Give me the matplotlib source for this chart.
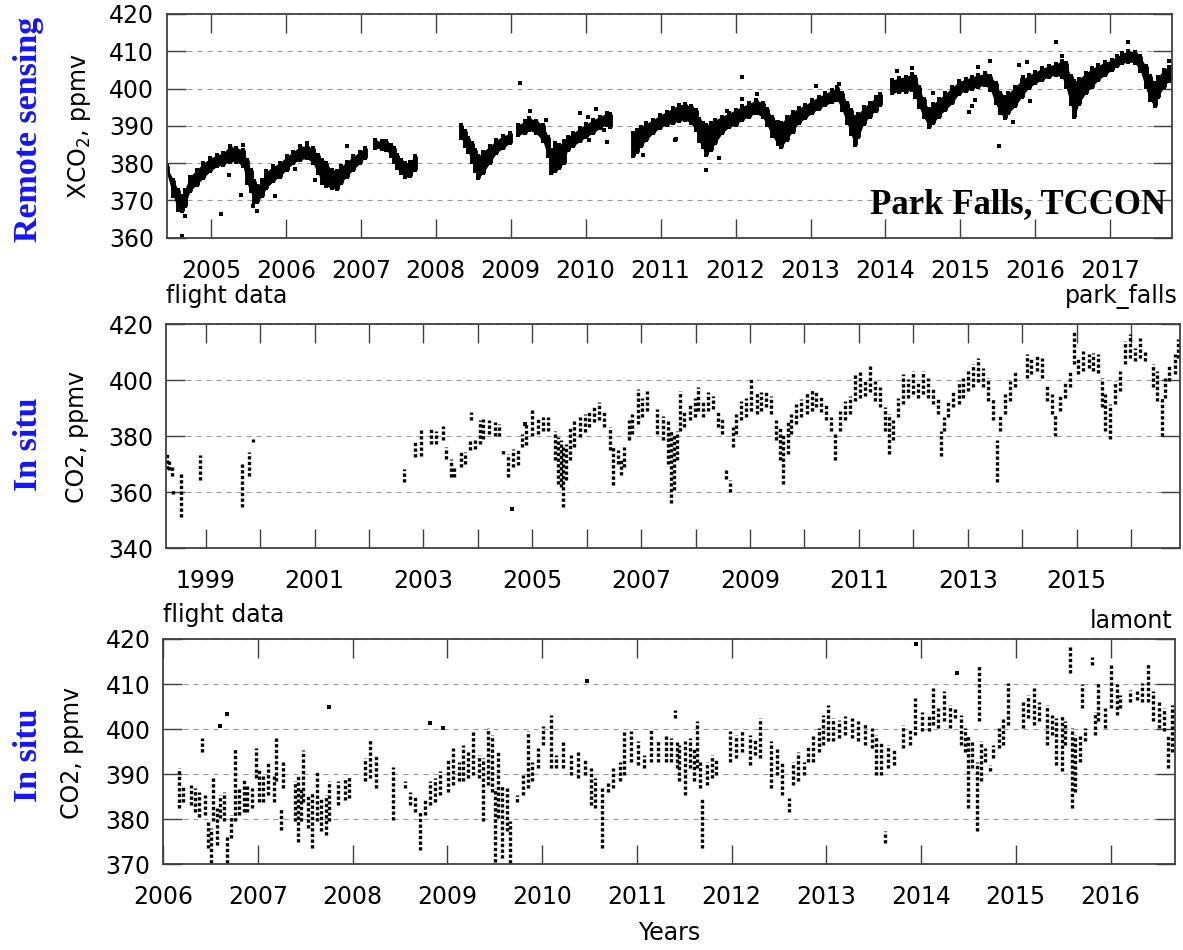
import numpy as np
import matplotlib
matplotlib.use("Agg")
import matplotlib.pyplot as plt

# ------------------------------------------------------------
# DATA
# ------------------------------------------------------------

# panel 1 : Park Falls TCCON XCO2, band envelope (decimal year, low, high)
tc_year = [
    2004.41, 2004.50, 2004.56, 2004.61, 2004.65, 2004.72, 2004.81, 2004.90, 2004.99,
    2005.08, 2005.16, 2005.25, 2005.34, 2005.43, 2005.48, 2005.53, 2005.57, 2005.62, 2005.68, 2005.74, 2005.83, 2005.92,
    2006.01, 2006.10, 2006.19, 2006.28, 2006.36, 2006.43, 2006.48, 2006.54, 2006.61, 2006.68, 2006.74, 2006.81, 2006.90, 2006.99,
    2007.05,
    2007.19, 2007.28, 2007.34, 2007.40, 2007.44, 2007.48, 2007.53, 2007.59, 2007.65, 2007.72,
    2008.34, 2008.39, 2008.43, 2008.48, 2008.52, 2008.57, 2008.63, 2008.72, 2008.81, 2008.90, 2008.99,
    2009.10, 2009.19, 2009.25, 2009.34, 2009.43, 2009.50, 2009.54, 2009.59, 2009.65, 2009.71, 2009.76, 2009.83, 2009.92,
    2010.01, 2010.10, 2010.19, 2010.28, 2010.33,
    2010.63, 2010.68, 2010.74, 2010.81, 2010.90, 2010.99, 2011.08,
    2011.16, 2011.24, 2011.33, 2011.40, 2011.47, 2011.51, 2011.56, 2011.60, 2011.67, 2011.73, 2011.82, 2011.91,
    2012.00, 2012.09, 2012.18, 2012.27, 2012.36, 2012.42, 2012.49, 2012.56, 2012.61, 2012.68, 2012.76, 2012.84, 2012.93,
    2013.02, 2013.11, 2013.20, 2013.29, 2013.36, 2013.42, 2013.49, 2013.54, 2013.59, 2013.64, 2013.71, 2013.79, 2013.87, 2013.93,
    2014.09, 2014.18, 2014.27, 2014.35, 2014.40, 2014.45, 2014.51, 2014.58, 2014.64, 2014.71, 2014.80, 2014.89, 2014.98,
    2015.07, 2015.16, 2015.24, 2015.33, 2015.40, 2015.47, 2015.53, 2015.59, 2015.64, 2015.73, 2015.82, 2015.91,
    2016.00, 2016.09, 2016.18, 2016.27, 2016.36, 2016.41, 2016.47, 2016.52, 2016.58, 2016.67, 2016.76, 2016.84, 2016.93,
    2017.02, 2017.09, 2017.16, 2017.24, 2017.33, 2017.40, 2017.47, 2017.53, 2017.59, 2017.64, 2017.71, 2017.78, 2017.82,
]
tc_lo = [
    377.3, 371.1, 367.5, 367.1, 368.4, 372.4, 374.2, 376.0, 377.8,
    379.1, 379.6, 380.4, 380.4, 379.1, 374.6, 372.4, 369.7, 369.5, 371.1, 373.3, 375.1, 376.4,
    378.2, 380.0, 380.9, 381.3, 380.0, 377.3, 374.6, 373.8, 373.3, 373.0, 374.6, 376.4, 378.2, 380.0,
    381.3,
    384.0, 383.8, 383.6, 381.8, 380.4, 378.7, 377.3, 376.4, 376.6, 378.2,
    386.7, 384.5, 383.1, 380.4, 377.8, 376.0, 377.3, 380.0, 382.7, 384.0, 385.4,
    387.6, 388.0, 388.8, 388.0, 385.8, 381.8, 377.3, 377.8, 378.7, 380.0, 383.6, 384.5, 385.8,
    387.1, 388.0, 389.4, 390.3, 389.8,
    381.8, 383.1, 384.5, 386.2, 388.0, 389.4, 390.3,
    390.7, 391.4, 391.6, 390.7, 388.9, 386.0, 384.2, 382.2, 383.5, 385.3, 388.0, 389.6,
    390.2, 391.6, 392.5, 393.4, 392.3, 390.2, 387.3, 385.1, 384.2, 386.2, 388.4, 390.7, 392.0,
    393.4, 394.6, 395.5, 396.4, 396.9, 394.3, 390.7, 387.8, 384.9, 387.1, 390.5, 392.5, 394.1, 395.6,
    398.7, 399.2, 399.2, 399.6, 397.7, 395.0, 392.3, 389.8, 390.7, 392.5, 394.3, 396.0, 398.6,
    399.4, 400.0, 400.5, 400.9, 399.6, 396.0, 393.4, 392.0, 393.4, 395.2, 397.8, 400.1,
    401.4, 402.3, 403.2, 403.6, 403.0, 400.3, 395.9, 392.3, 395.9, 398.7, 400.5, 402.3, 403.6,
    405.0, 406.1, 406.8, 407.2, 406.8, 404.8, 400.3, 396.9, 395.3, 397.7, 400.3, 402.1, 402.8,
]
tc_hi = [
    379.1, 375.5, 372.9, 371.1, 372.9, 376.4, 378.2, 380.0, 381.3,
    382.2, 382.7, 384.5, 384.0, 383.6, 380.9, 378.2, 375.1, 373.8, 375.5, 377.8, 379.1, 380.0,
    381.8, 383.1, 384.5, 384.6, 384.0, 382.2, 380.9, 380.0, 378.2, 377.8, 379.1, 380.4, 381.8, 383.1,
    384.0,
    386.1, 385.8, 385.8, 384.9, 384.0, 382.2, 380.9, 380.0, 380.4, 381.8,
    390.3, 388.5, 386.7, 385.4, 383.6, 381.8, 383.1, 384.5, 386.2, 387.3, 388.0,
    390.3, 391.2, 392.1, 391.4, 390.3, 387.1, 383.6, 385.4, 384.9, 385.8, 387.1, 388.0, 389.4,
    390.5, 391.6, 392.5, 393.4, 393.2,
    388.0, 388.9, 389.8, 390.7, 391.6, 392.9, 393.8,
    394.7, 395.6, 395.8, 395.2, 394.3, 391.8, 390.7, 390.2, 390.7, 391.6, 392.5, 393.4,
    394.3, 395.2, 396.0, 396.9, 396.2, 394.4, 392.5, 390.9, 390.7, 392.3, 393.8, 394.7, 395.6,
    396.8, 397.8, 398.7, 399.6, 400.3, 398.7, 396.2, 394.3, 392.5, 393.2, 395.0, 396.2, 397.7, 398.6,
    402.3, 402.8, 403.2, 403.9, 403.2, 400.5, 397.1, 394.4, 395.9, 397.1, 398.7, 400.3, 401.9,
    402.5, 403.2, 403.6, 404.1, 403.4, 401.6, 398.9, 397.8, 398.7, 400.5, 402.3, 403.6,
    404.5, 405.4, 406.1, 406.6, 407.5, 406.8, 403.4, 401.9, 402.5, 404.1, 405.4, 406.3, 407.0,
    407.7, 408.6, 409.5, 410.0, 409.9, 408.6, 406.1, 403.4, 401.6, 403.2, 405.0, 405.9, 405.9,
]
tc_out_year = [2004.62, 2004.65, 2005.13, 2005.24, 2005.40, 2005.56, 2005.62, 2005.85, 2006.12,
               2006.39, 2006.81, 2006.28, 2005.43, 2009.12, 2009.26, 2009.47, 2009.47, 2009.92,
               2010.03, 2010.14, 2010.05, 2010.28, 2010.25, 2010.76, 2011.19, 2011.20, 2011.78,
               2011.61, 2012.09, 2012.09, 2012.29, 2011.88, 2013.07, 2013.38, 2014.16, 2014.36,
               2014.63, 2015.12, 2015.15, 2015.20, 2015.24, 2015.39, 2015.51, 2015.70, 2015.78,
               2015.89, 2015.84, 2015.93, 2016.28, 2016.36, 2017.24, 2017.78]
tc_out_val = [360.4, 365.7, 366.4, 376.7, 371.5, 368.4, 367.1, 371.3, 378.4,
              375.5, 384.5, 385.5, 384.9, 401.6, 394.0, 391.6, 386.3, 393.4,
              392.3, 394.6, 386.1, 385.6, 388.8, 382.1, 386.3, 386.4, 381.5,
              378.2, 403.2, 397.1, 398.6, 394.1, 400.7, 401.2, 404.7, 405.4,
              398.9, 393.6, 395.4, 396.8, 405.9, 407.4, 384.6, 391.0, 406.2,
              407.2, 403.2, 396.7, 412.6, 408.6, 412.6, 407.5]

# panel 2 : park_falls flight profiles (decimal year, low, high)
pf_year = [
    1998.28, 1998.33, 1998.38, 1998.40, 1998.55, 1998.90, 1999.67, 1999.80, 1999.86,
    2002.65, 2002.84, 2002.96, 2003.14, 2003.23, 2003.36, 2003.42, 2003.51, 2003.57, 2003.69,
    2003.76, 2003.85, 2003.88, 2003.94, 2004.03, 2004.10, 2004.21, 2004.31, 2004.39, 2004.46,
    2004.55, 2004.65, 2004.73, 2004.81, 2004.89, 2005.00, 2005.10, 2005.19, 2005.29, 2005.41,
    2005.47, 2005.53, 2005.57, 2005.62, 2005.70, 2005.77, 2005.87, 2005.96, 2006.05, 2006.14,
    2006.23, 2006.32, 2006.42, 2006.49, 2006.57, 2006.63, 2006.69, 2006.77, 2006.83, 2006.94,
    2007.02, 2007.10, 2007.30, 2007.40, 2007.49, 2007.55, 2007.61, 2007.66, 2007.71, 2007.79,
    2007.89, 2007.98, 2008.04, 2008.13, 2008.23, 2008.32, 2008.41, 2008.48, 2008.55, 2008.64,
    2008.69, 2008.75, 2008.84, 2008.93, 2009.02, 2009.12, 2009.21, 2009.30, 2009.39, 2009.48,
    2009.55, 2009.61, 2009.69, 2009.76, 2009.85, 2009.94, 2010.04, 2010.13, 2010.22, 2010.31,
    2010.40, 2010.48, 2010.56, 2010.65, 2010.74, 2010.83, 2010.92, 2011.02, 2011.11, 2011.20,
    2011.29, 2011.38, 2011.48, 2011.55, 2011.63, 2011.72, 2011.81, 2011.91, 2012.00, 2012.09,
    2012.18, 2012.27, 2012.37, 2012.46, 2012.51, 2012.57, 2012.64, 2012.73, 2012.83, 2012.92,
    2013.01, 2013.10, 2013.19, 2013.28, 2013.38, 2013.47, 2013.53, 2013.59, 2013.68, 2013.78,
    2013.87, 2014.08, 2014.17, 2014.27, 2014.36, 2014.45, 2014.54, 2014.60, 2014.70, 2014.79,
    2014.88, 2014.96, 2015.03, 2015.12, 2015.22, 2015.31, 2015.40, 2015.46, 2015.53, 2015.61,
    2015.70, 2015.80, 2015.89, 2015.98, 2016.07, 2016.17, 2016.26, 2016.41, 2016.47, 2016.56,
    2016.62, 2016.70, 2016.81, 2016.87,
]
pf_lo = [
    368.4, 367.8, 365.7, 359.5, 351.2, 364.5, 354.6, 365.7, 377.9,
    363.7, 372.5, 373.1, 377.3, 377.3, 378.5, 372.0, 365.4, 365.4, 369.0,
    370.2, 374.9, 385.6, 375.5, 377.3, 379.1, 380.8, 380.2, 380.2, 373.7,
    365.4, 369.0, 369.6, 376.1, 376.7, 380.2, 380.8, 382.0, 382.0, 371.4,
    363.1, 361.9, 354.6, 364.3, 371.4, 376.1, 379.6, 381.4, 383.2, 385.0,
    385.6, 383.2, 374.9, 362.5, 370.2, 366.0, 369.0, 378.5, 380.8, 384.4,
    386.7, 389.1, 380.8, 378.5, 370.2, 356.0, 360.7, 371.4, 382.0, 383.2,
    385.6, 386.7, 389.1, 386.7, 389.1, 389.7, 383.2, 380.8, 364.9, 360.1,
    376.1, 380.8, 385.6, 386.7, 389.1, 387.9, 389.1, 390.3, 387.9, 378.5,
    371.4, 363.1, 373.7, 380.8, 384.4, 386.7, 387.9, 389.1, 390.3, 388.5,
    385.6, 382.0, 371.4, 382.0, 385.6, 387.9, 392.7, 393.8, 394.4, 395.6,
    392.7, 390.3, 382.0, 373.7, 378.5, 386.7, 391.5, 393.8, 395.0, 393.8,
    395.0, 393.8, 391.5, 387.9, 373.1, 382.0, 386.7, 390.3, 391.5, 393.8,
    396.2, 397.4, 399.2, 397.4, 392.7, 385.6, 363.7, 382.0, 387.9, 392.7,
    397.4, 400.9, 402.1, 403.3, 400.9, 392.7, 387.9, 380.2, 389.1, 393.8,
    397.4, 405.7, 402.1, 403.3, 404.5, 403.3, 402.7, 390.3, 382.0, 379.1,
    391.5, 396.2, 405.7, 408.0, 406.9, 408.0, 406.9, 397.4, 392.7, 380.2,
    393.8, 399.8, 402.1, 408.0,
]
pf_hi = [
    374.3, 371.4, 369.6, 361.3, 366.6, 373.4, 370.4, 374.3, 379.1,
    368.4, 378.2, 382.6, 382.6, 382.0, 383.8, 376.1, 372.0, 369.0, 374.9,
    374.3, 378.5, 388.5, 379.1, 385.6, 386.2, 385.6, 385.0, 384.4, 375.5,
    373.7, 375.5, 374.9, 380.8, 384.4, 389.3, 386.2, 386.7, 386.7, 382.0,
    379.6, 378.5, 376.1, 377.3, 383.2, 385.6, 386.7, 387.9, 389.1, 390.9,
    392.1, 389.1, 383.2, 376.1, 374.9, 371.4, 376.1, 385.6, 387.9, 396.8,
    393.8, 396.2, 389.7, 387.3, 385.6, 382.0, 380.8, 382.0, 396.2, 389.1,
    391.5, 393.8, 397.4, 392.7, 395.6, 394.4, 389.1, 386.7, 368.4, 364.3,
    383.2, 387.9, 392.7, 393.8, 400.4, 395.6, 395.6, 396.2, 394.4, 385.6,
    383.2, 380.8, 385.6, 387.9, 391.5, 393.3, 395.6, 396.8, 396.2, 394.4,
    391.5, 386.7, 380.8, 389.1, 392.7, 394.4, 402.1, 403.3, 400.4, 405.7,
    399.8, 397.4, 390.3, 387.9, 385.6, 393.8, 402.1, 400.4, 403.3, 399.8,
    403.3, 400.9, 397.4, 393.8, 382.0, 386.7, 392.7, 396.2, 399.8, 400.9,
    403.3, 405.7, 408.0, 404.5, 400.9, 393.8, 378.5, 387.9, 395.0, 399.8,
    403.3, 409.2, 408.0, 409.2, 408.0, 398.6, 395.0, 387.9, 395.0, 399.8,
    403.3, 417.5, 408.0, 410.4, 409.2, 409.8, 409.2, 400.9, 395.0, 391.5,
    399.8, 403.3, 414.0, 416.3, 411.6, 415.1, 410.4, 405.7, 403.3, 393.8,
    400.9, 405.7, 409.2, 414.6,
]
pf_out_year = [2004.63, 2004.87]
pf_out_val = [354.2, 384.4]

# panel 3 : lamont flight profiles (decimal year, low, high)
la_year = [
    2006.17, 2006.21, 2006.30, 2006.34, 2006.38, 2006.41, 2006.44, 2006.48, 2006.51, 2006.53,
    2006.57, 2006.60, 2006.64, 2006.67, 2006.72, 2006.76, 2006.80, 2006.85, 2006.89, 2006.94,
    2006.98, 2007.01, 2007.06, 2007.11, 2007.17, 2007.19, 2007.24, 2007.27, 2007.39, 2007.42,
    2007.46, 2007.48, 2007.53, 2007.57, 2007.62, 2007.67, 2007.72, 2007.75, 2007.85, 2007.92,
    2007.96, 2008.13, 2008.18, 2008.25, 2008.43, 2008.55, 2008.61, 2008.66, 2008.71, 2008.76,
    2008.82, 2008.87, 2008.92, 2009.01, 2009.06, 2009.12, 2009.17, 2009.22, 2009.27, 2009.33,
    2009.38, 2009.43, 2009.47, 2009.50, 2009.54, 2009.58, 2009.63, 2009.66, 2009.74, 2009.80,
    2009.85, 2009.89, 2009.96, 2010.01, 2010.10, 2010.15, 2010.22, 2010.31, 2010.38, 2010.45,
    2010.52, 2010.56, 2010.63, 2010.70, 2010.75, 2010.82, 2010.87, 2010.94, 2011.01, 2011.08,
    2011.15, 2011.22, 2011.31, 2011.36, 2011.40, 2011.42, 2011.45, 2011.51, 2011.56, 2011.60,
    2011.64, 2011.67, 2011.69, 2011.74, 2011.79, 2011.84, 2011.98, 2012.05, 2012.11, 2012.19,
    2012.25, 2012.30, 2012.42, 2012.48, 2012.53, 2012.61, 2012.65, 2012.70, 2012.76, 2012.81,
    2012.86, 2012.92, 2012.97, 2013.02, 2013.07, 2013.13, 2013.20, 2013.27, 2013.34, 2013.41,
    2013.48, 2013.53, 2013.58, 2013.62, 2013.65, 2013.71, 2013.81, 2013.88, 2013.94, 2014.01,
    2014.08, 2014.13, 2014.18, 2014.24, 2014.31, 2014.36, 2014.42, 2014.46, 2014.50, 2014.54,
    2014.59, 2014.61, 2014.63, 2014.68, 2014.73, 2014.76, 2014.82, 2014.87, 2014.92, 2015.08,
    2015.13, 2015.19, 2015.24, 2015.33, 2015.38, 2015.42, 2015.49, 2015.52, 2015.57, 2015.59,
    2015.63, 2015.68, 2015.70, 2015.73, 2015.80, 2015.84, 2015.87, 2015.94, 2016.01, 2016.07,
    2016.10, 2016.21, 2016.28, 2016.33, 2016.40, 2016.45, 2016.51, 2016.56, 2016.61, 2016.65,
]
la_lo = [
    382.4, 383.9, 383.2, 381.7, 380.6, 395.0, 381.0, 373.6, 370.2, 379.5,
    374.3, 380.2, 379.5, 370.2, 375.8, 379.5, 381.0, 381.7, 381.7, 382.4,
    389.1, 383.9, 383.9, 385.4, 383.9, 388.4, 377.6, 386.9, 379.5, 375.0,
    379.5, 383.9, 378.0, 373.6, 379.5, 377.3, 376.5, 379.5, 383.2, 384.3,
    384.7, 388.4, 389.1, 386.9, 379.9, 386.9, 383.2, 381.7, 373.2, 381.0,
    383.2, 383.9, 385.4, 386.1, 387.6, 388.4, 388.4, 389.1, 389.9, 389.1,
    379.5, 387.6, 386.1, 370.6, 380.2, 371.3, 377.3, 370.2, 383.9, 385.4,
    386.9, 388.4, 391.3, 396.5, 391.3, 391.3, 391.3, 389.9, 389.1, 389.9,
    383.2, 382.4, 373.6, 386.1, 386.9, 388.4, 389.9, 392.8, 392.1, 391.3,
    392.8, 392.8, 392.8, 392.8, 402.4, 391.3, 388.4, 385.4, 391.3, 388.4,
    391.3, 386.9, 373.6, 387.6, 389.1, 389.9, 392.8, 393.6, 395.0, 392.1,
    394.3, 393.6, 386.9, 389.9, 385.4, 381.7, 387.6, 388.4, 389.9, 392.8,
    392.8, 395.0, 396.5, 397.3, 397.3, 398.0, 398.7, 398.0, 397.3, 396.5,
    395.8, 389.9, 389.9, 374.7, 391.3, 392.1, 395.8, 396.5, 398.7, 399.5,
    399.5, 401.0, 400.2, 401.7, 400.2, 402.4, 396.5, 395.0, 382.4, 391.3,
    377.3, 401.7, 388.4, 392.8, 390.6, 393.6, 395.8, 396.5, 401.0, 400.2,
    402.4, 401.0, 401.7, 396.5, 398.7, 392.1, 390.6, 396.5, 412.4, 382.4,
    386.1, 392.8, 404.7, 397.3, 414.3, 398.7, 401.7, 400.2, 404.7, 403.2,
    404.7, 406.1, 406.5, 406.1, 406.1, 401.7, 400.2, 399.5, 391.3, 395.0,
]
la_hi = [
    391.3, 387.6, 387.6, 386.9, 386.1, 398.1, 385.4, 379.5, 378.0, 389.5,
    382.4, 385.4, 386.1, 376.1, 381.0, 395.8, 386.9, 389.1, 387.6, 386.9,
    395.8, 391.3, 389.9, 392.8, 389.9, 398.0, 382.4, 392.8, 388.4, 389.9,
    386.9, 395.4, 385.4, 386.1, 391.0, 384.7, 385.4, 388.4, 388.4, 389.1,
    389.5, 393.6, 397.6, 394.3, 391.7, 388.4, 386.1, 385.4, 381.7, 384.7,
    388.4, 389.1, 390.6, 393.6, 395.8, 392.8, 396.5, 395.0, 399.5, 394.3,
    393.6, 400.2, 398.7, 386.9, 395.0, 387.6, 386.9, 379.5, 385.4, 389.9,
    399.5, 392.8, 395.8, 400.6, 403.2, 394.3, 397.3, 394.3, 395.0, 393.6,
    391.3, 389.1, 386.9, 388.4, 391.3, 392.8, 399.5, 399.5, 397.3, 394.3,
    399.8, 397.3, 398.7, 398.0, 404.3, 397.3, 396.5, 397.3, 398.0, 395.8,
    401.7, 392.8, 384.7, 392.8, 394.3, 393.6, 399.5, 398.7, 399.5, 398.7,
    398.0, 402.4, 397.3, 395.8, 392.8, 384.7, 392.8, 395.0, 392.8, 396.5,
    398.7, 400.2, 403.2, 405.4, 402.4, 402.1, 402.8, 402.4, 401.7, 401.3,
    400.2, 398.7, 397.3, 377.3, 396.5, 395.8, 401.0, 400.2, 406.9, 403.9,
    403.2, 409.1, 404.7, 408.4, 405.4, 404.7, 403.2, 400.2, 398.7, 397.3,
    392.8, 413.9, 397.3, 395.8, 392.1, 396.5, 400.2, 402.4, 410.2, 406.1,
    407.6, 409.1, 406.1, 405.4, 403.2, 402.4, 403.2, 401.7, 418.4, 400.2,
    398.7, 398.7, 409.9, 400.2, 416.1, 403.9, 410.2, 404.7, 414.3, 409.9,
    407.6, 408.7, 408.7, 410.2, 414.7, 408.4, 406.1, 404.7, 398.7, 405.4,
]
la_out_year = [2006.60, 2006.67, 2007.75, 2008.82, 2008.96, 2010.47, 2013.95, 2014.38]
la_out_val = [400.6, 403.3, 404.8, 401.3, 400.2, 410.6, 418.9, 412.4]

# axes limits and ticks
p1_xlim, p1_ylim = (2004.41, 2017.82), (360, 420)
p1_xticks = list(range(2005, 2018))
p1_yticks = [360, 370, 380, 390, 400, 410, 420]

p2_xlim, p2_ylim = (1998.27, 2016.90), (340, 420)
p2_xticks = list(range(1999, 2017))
p2_xlabels = [str(y) if y % 2 == 1 else "" for y in p2_xticks]
p2_yticks = [340, 360, 380, 400, 420]

p3_xlim, p3_ylim = (2006.0, 2016.68), (370, 420)
p3_xticks = list(range(2006, 2017))
p3_yticks = [370, 380, 390, 400, 410, 420]

# ------------------------------------------------------------
# STYLE
# ------------------------------------------------------------
plt.rcParams["font.family"] = ["DejaVu Sans"]
plt.rcParams["mathtext.fontset"] = "dejavusans"

EDGE = "#404040"
BLUE = "#1414ff"
TICK_FS = 17


def frame(ax, xlim, ylim, xticks, xlabels, yticks):
    ax.set_xlim(xlim)
    ax.set_ylim(ylim)
    ax.set_xticks(xticks)
    ax.set_xticklabels(xlabels)
    ax.set_yticks(yticks)
    ax.tick_params(direction="in", length=14, width=1.0, color=EDGE,
                   top=True, right=True, labelsize=TICK_FS)
    ax.tick_params(axis="x", pad=15)
    ax.tick_params(axis="y", pad=9)
    for s in ax.spines.values():
        s.set_color(EDGE)
        s.set_linewidth(1.3)
    ax.grid(axis="y", linestyle=(0, (4.5, 4.5)), color="#9a9a9a", linewidth=0.8)
    ax.set_axisbelow(True)


def draw_band(ax, t, lo, hi, gap=0.105):
    t, lo, hi = np.asarray(t), np.asarray(lo), np.asarray(hi)
    breaks = np.where(np.diff(t) > gap)[0] + 1
    for idx in np.split(np.arange(len(t)), breaks):
        ax.fill_between(t[idx], lo[idx], hi[idx], color="black", linewidth=0)
    ax.vlines(t, lo, hi, colors="black", linewidth=3.5)
    ax.scatter(np.r_[t, t], np.r_[lo, hi], s=10, c="black", marker="s", linewidths=0)


def draw_profiles(ax, t, lo, hi):
    ax.vlines(t, lo, hi, colors="black", linewidth=2.4,
              linestyles=[(0, (1, 0.7))], capstyle="butt")


fig = plt.figure(figsize=(11.83, 9.5), dpi=100)
ax1 = fig.add_axes([0.1409, 0.7498, 0.8496, 0.2355])
ax2 = fig.add_axes([0.1403, 0.4228, 0.8572, 0.2361])
ax3 = fig.add_axes([0.1378, 0.0902, 0.8554, 0.2372])

# panel 1
frame(ax1, p1_xlim, p1_ylim, p1_xticks, [str(y) for y in p1_xticks], p1_yticks)
draw_band(ax1, tc_year, tc_lo, tc_hi)
ax1.scatter(tc_out_year, tc_out_val, s=8, c="black", marker="s", linewidths=0)
ax1.text(2013.79, 366.6, "Park Falls, TCCON", family=["Liberation Serif", "DejaVu Serif"],
         weight="bold", size=25, ha="left", va="baseline", clip_on=True)

# panel 2
frame(ax2, p2_xlim, p2_ylim, p2_xticks, p2_xlabels, p2_yticks)
draw_profiles(ax2, pf_year, pf_lo, pf_hi)
ax2.scatter(pf_out_year, pf_out_val, s=8, c="black", marker="s", linewidths=0)
ax2.text(0.0, 1.094, "flight data", transform=ax2.transAxes, ha="left", va="baseline", size=TICK_FS)
ax2.text(0.998, 1.094, "park_falls", transform=ax2.transAxes, ha="right", va="baseline", size=TICK_FS)

# panel 3
frame(ax3, p3_xlim, p3_ylim, p3_xticks, [str(y) for y in p3_xticks], p3_yticks)
draw_profiles(ax3, la_year, la_lo, la_hi)
ax3.scatter(la_out_year, la_out_val, s=8, c="black", marker="s", linewidths=0)
ax3.text(0.0, 1.076, "flight data", transform=ax3.transAxes, ha="left", va="baseline", size=TICK_FS)
ax3.text(0.998, 1.049, "lamont", transform=ax3.transAxes, ha="right", va="baseline", size=TICK_FS)

# y labels
fig.text(0.0676, 0.867, "XCO$_2$, ppmv", rotation=90, ha="center", va="center", size=TICK_FS)
fig.text(0.065, 0.540, "CO2, ppmv", rotation=90, ha="center", va="center", size=TICK_FS)
fig.text(0.061, 0.2074, "CO2, ppmv", rotation=90, ha="center", va="center", size=TICK_FS)
fig.text(0.566, 0.0105, "Years", ha="center", va="baseline", size=TICK_FS)

# blue side labels
serif_bold = dict(family=["Liberation Serif", "DejaVu Serif"], weight="bold", size=24.5,
                  color=BLUE, rotation=90, ha="center", va="center")
fig.text(0.0237, 0.864, "Remote sensing", **serif_bold)
fig.text(0.0237, 0.532, "In situ", **serif_bold)
fig.text(0.0237, 0.205, "In situ", **serif_bold)

fig.savefig("out.png", dpi=100)
